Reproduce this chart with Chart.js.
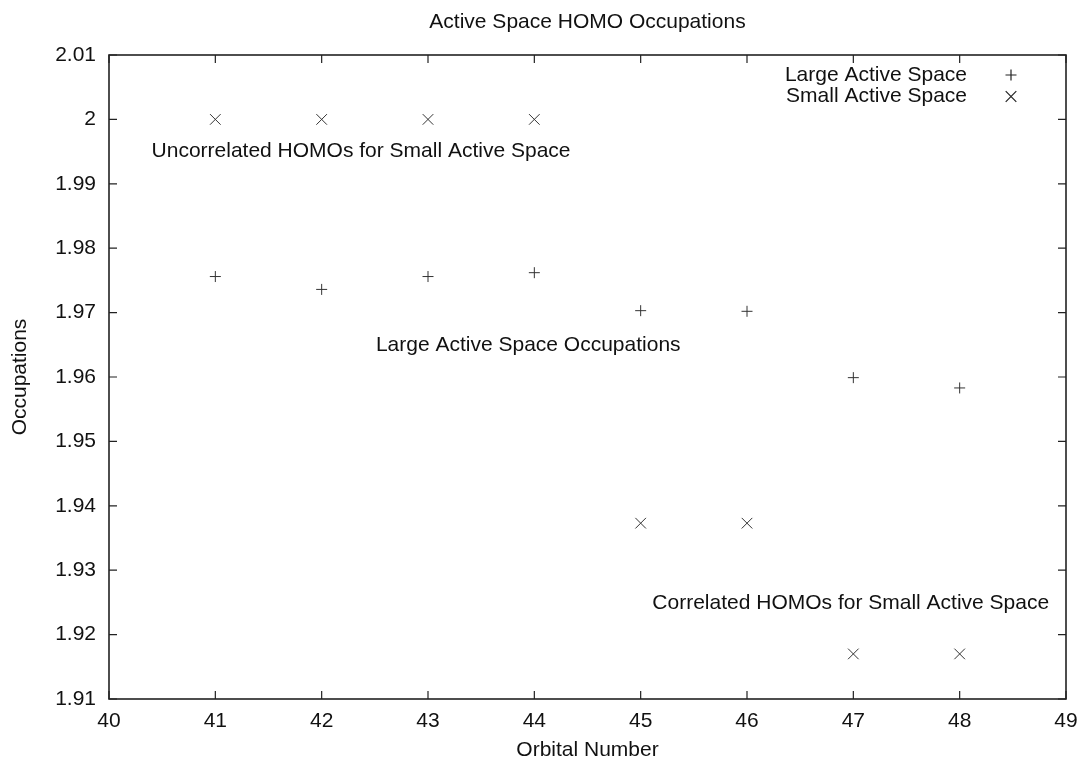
<!DOCTYPE html>
<html>
<head>
<meta charset="utf-8">
<title>Active Space HOMO Occupations</title>
<script src="https://cdn.jsdelivr.net/npm/chart.js@4/dist/chart.umd.min.js"></script>
<style>
  html, body { margin: 0; padding: 0; background: #fff; }
  #wrap { width: 1080px; height: 763px; }
</style>
</head>
<body>
<div id="wrap"><canvas id="homoChart" width="1080" height="763"></canvas></div>
<script>
// data
const orbitals = [41, 42, 43, 44, 45, 46, 47, 48];
const largeOcc = [1.9756, 1.9736, 1.9756, 1.9762, 1.9703, 1.9702, 1.9599, 1.9583];
const smallOcc = [2.0, 2.0, 2.0, 2.0, 1.9373, 1.9373, 1.9170, 1.9170];

const xTicks = [40, 41, 42, 43, 44, 45, 46, 47, 48, 49];
const yTicks = [1.91, 1.92, 1.93, 1.94, 1.95, 1.96, 1.97, 1.98, 1.99, 2.00, 2.01];

const seriesNames = ['Large Active Space', 'Small Active Space'];
const chartTitle = 'Active Space HOMO Occupations';

// text labels placed in data coordinates
const notes = [
  { x: 40.40, y: 1.9951, text: 'Uncorrelated HOMOs for Small Active Space' },
  { x: 42.51, y: 1.9650, text: 'Large Active Space Occupations' },
  { x: 45.11, y: 1.9249, text: 'Correlated HOMOs for Small Active Space' }
];

const FONT = "'Liberation Sans', Arial, Helvetica, sans-serif";
const FSIZE = 21;
const INK = '#111';
const FRAME = '#222';
const MARK = '#333';

const frameAndText = {
  id: 'frameAndText',
  afterDatasetsDraw(chart) {
    const { ctx, chartArea: a, scales } = chart;
    const xs = scales.x, ys = scales.y;
    ctx.save();

    // border frame
    ctx.strokeStyle = FRAME;
    ctx.lineWidth = 1.6;
    ctx.strokeRect(a.left, a.top, a.right - a.left, a.bottom - a.top);

    // inward ticks on all four sides
    const tl = 8;
    ctx.lineWidth = 1.2;
    ctx.beginPath();
    xTicks.forEach(v => {
      const px = xs.getPixelForValue(v);
      ctx.moveTo(px, a.bottom); ctx.lineTo(px, a.bottom - tl);
      ctx.moveTo(px, a.top); ctx.lineTo(px, a.top + tl);
    });
    yTicks.forEach(v => {
      const py = ys.getPixelForValue(v);
      ctx.moveTo(a.left, py); ctx.lineTo(a.left + tl, py);
      ctx.moveTo(a.right, py); ctx.lineTo(a.right - tl, py);
    });
    ctx.stroke();

    ctx.fillStyle = INK;
    ctx.font = FSIZE + 'px ' + FONT;
    ctx.textBaseline = 'middle';

    // title over plot area
    ctx.textAlign = 'center';
    ctx.fillText(chartTitle, (a.left + a.right) / 2, 22);

    // annotations
    ctx.textAlign = 'left';
    notes.forEach(n => {
      ctx.fillText(n.text, xs.getPixelForValue(n.x), ys.getPixelForValue(n.y));
    });

    // key, top right inside the frame
    chart.data.datasets.forEach((ds, i) => {
      const y = a.top + 20 + i * 21.5;
      ctx.textAlign = 'right';
      ctx.fillStyle = INK;
      ctx.fillText(ds.label, a.right - 99, y);
      Chart.helpers.drawPoint(ctx, {
        pointStyle: ds.pointStyle,
        radius: ds.pointRadius,
        borderWidth: ds.borderWidth,
        rotation: 0
      }, a.right - 55, y);
    });

    ctx.restore();
  }
};

const ctx = document.getElementById('homoChart').getContext('2d');
new Chart(ctx, {
  type: 'scatter',
  data: {
    datasets: [{
      label: seriesNames[0],
      data: orbitals.map((o, i) => ({ x: o, y: largeOcc[i] })),
      pointStyle: 'cross',
      pointRadius: 5.5,
      borderColor: MARK,
      backgroundColor: MARK,
      borderWidth: 1
    }, {
      label: seriesNames[1],
      data: orbitals.map((o, i) => ({ x: o, y: smallOcc[i] })),
      pointStyle: 'crossRot',
      pointRadius: 7.5,
      borderColor: MARK,
      backgroundColor: MARK,
      borderWidth: 1
    }]
  },
  options: {
    responsive: false,
    animation: false,
    events: [],
    layout: { padding: { top: 55, right: 14, left: 0, bottom: 0 } },
    plugins: {
      legend: { display: false },
      title: { display: false },
      tooltip: { enabled: false }
    },
    scales: {
      x: {
        type: 'linear',
        min: 40,
        max: 49,
        afterBuildTicks: s => { s.ticks = xTicks.map(v => ({ value: v })); },
        afterFit: s => { s.height = 64; s.paddingLeft = 0; s.paddingRight = 0; },
        grid: { display: false, drawTicks: false },
        border: { display: false },
        ticks: {
          padding: 10,
          color: INK,
          font: { family: FONT, size: FSIZE },
          callback: v => String(v)
        },
        title: {
          display: true,
          text: 'Orbital Number',
          color: INK,
          font: { family: FONT, size: FSIZE },
          padding: { top: 0, bottom: 0 }
        }
      },
      y: {
        type: 'linear',
        min: 1.91,
        max: 2.01,
        afterBuildTicks: s => { s.ticks = yTicks.map(v => ({ value: v })); },
        afterFit: s => { s.width = 109; s.paddingTop = 0; s.paddingBottom = 0; },
        grid: { display: false, drawTicks: false },
        border: { display: false },
        ticks: {
          padding: 13,
          color: INK,
          font: { family: FONT, size: FSIZE },
          callback: v => String(+v.toFixed(2))
        },
        title: {
          display: true,
          text: 'Occupations',
          color: INK,
          font: { family: FONT, size: FSIZE },
          padding: { top: 8, bottom: 0 }
        }
      }
    }
  },
  plugins: [frameAndText]
});
</script>
</body>
</html>
